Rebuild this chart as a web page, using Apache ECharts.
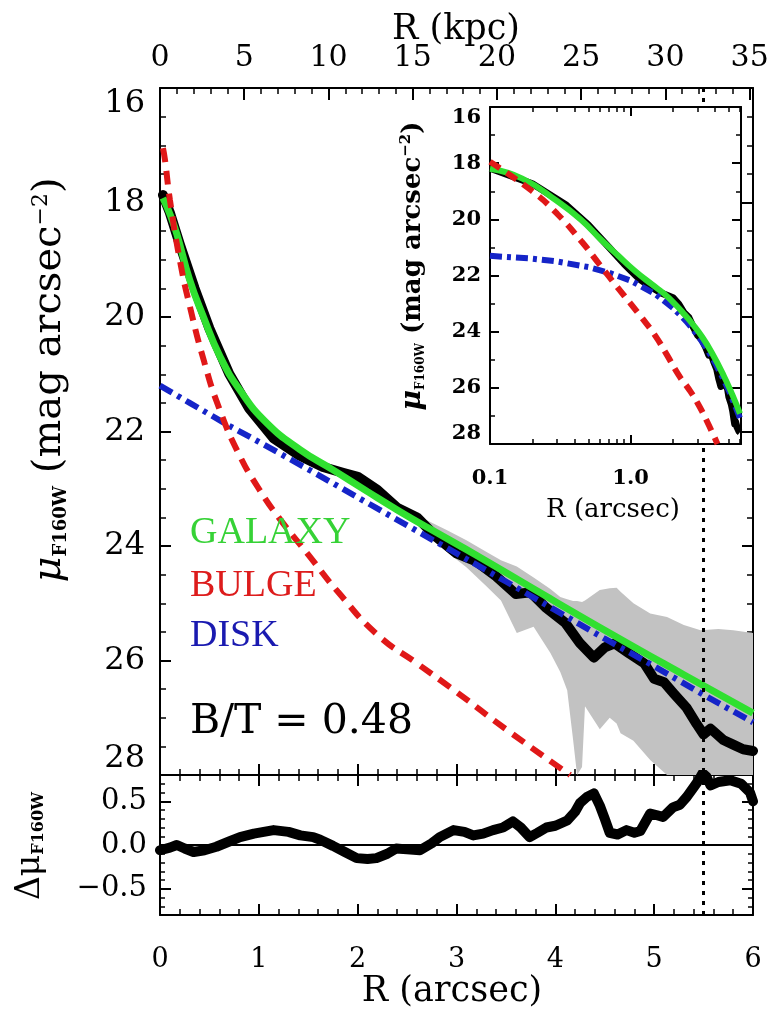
<!DOCTYPE html>
<html>
<head>
<meta charset="utf-8">
<script src="https://cdn.jsdelivr.net/npm/echarts@6/dist/echarts.min.js"></script>
<style>
html, body { margin: 0; padding: 0; background: #fff; }
#profile { width: 773px; height: 1017px; }
</style>
</head>
<body>
<div id="profile"></div>
<script>
// surface brightness profile (R in arcsec, mu in mag arcsec^-2)
var galaxyR  = [0.03, 0.1, 0.17, 0.3, 0.44, 0.61, 0.81, 1.08, 1.42, 1.75, 2.1, 2.43, 2.73, 3.24, 3.8, 4.58, 5.3, 6.0];
var galaxyMu = [17.92, 18.2, 18.55, 19.35, 20.0, 20.7, 21.28, 21.85, 22.32, 22.67, 23.05, 23.4, 23.7, 24.2, 24.77, 25.55, 26.25, 26.92];

var bulgeR  = [0.03, 0.05, 0.1, 0.2, 0.3, 0.45, 0.6, 0.8, 1.0, 1.2, 1.5, 1.8, 2.2, 2.6, 3.0, 3.5, 4.15];
var bulgeMu = [17.05, 17.25, 17.95, 19.0, 19.8, 20.8, 21.6, 22.4, 23.0, 23.5, 24.15, 24.8, 25.55, 26.05, 26.55, 27.2, 28.0];

var diskR  = [0, 0.1, 0.2, 0.3, 0.5, 0.7, 1.0, 1.5, 2.0, 2.5, 3.0, 3.5, 4.0, 4.5, 5.0, 5.5, 6.0];
var diskMu = [21.2, 21.3, 21.4, 21.5, 21.7, 21.9, 22.18, 22.66, 23.15, 23.64, 24.13, 24.62, 25.12, 25.62, 26.1, 26.6, 27.08];

var dataR  = [0.03, 0.1, 0.2, 0.35, 0.5, 0.7, 0.9, 1.15, 1.4, 1.65, 1.85, 2.0, 2.2, 2.4, 2.6, 2.8, 3.0, 3.2, 3.4, 3.6,
              3.75, 3.9, 4.1, 4.25, 4.39, 4.5, 4.6, 4.75, 4.9, 5.0, 5.1, 5.2, 5.33, 5.43, 5.5, 5.57, 5.7, 5.8, 5.9, 6.0];
var dataMu = [17.87, 18.18, 18.73, 19.5, 20.2, 20.99, 21.59, 22.12, 22.41, 22.62, 22.72, 22.79, 23.02, 23.33, 23.5, 23.85, 24.13, 24.27, 24.53, 24.84,
              24.81, 25.07, 25.34, 25.7, 25.95, 25.77, 25.7, 25.88, 26.05, 26.32, 26.38, 26.58, 26.83, 27.11, 27.29, 27.19, 27.39, 27.47, 27.55, 27.58];

// grey error envelope
var bandR     = [2.7, 2.9, 3.1, 3.3, 3.45, 3.61, 3.78, 3.95, 4.05, 4.12, 4.18, 4.22, 4.27, 4.3, 4.45, 4.55, 4.62, 4.66, 4.79, 4.96, 5.13, 5.3, 5.47, 5.65, 5.8, 6.0];
var bandUpper = [23.55, 23.72, 23.9, 24.1, 24.25, 24.36, 24.55, 24.75, 24.89, 24.93, 24.96, 24.96, 24.98, 24.95, 24.77, 24.74, 24.73, 24.8, 25.0, 25.18, 25.24, 25.38, 25.47, 25.45, 25.47, 25.52];
var bandLower = [23.75, 24.1, 24.37, 24.7, 24.95, 25.52, 25.41, 25.87, 26.2, 26.52, 27.39, 28.0, 27.86, 26.8, 27.2, 27.0, 27.1, 27.27, 27.4, 27.74, 28.0, 28.6, 28.6, 28.6, 28.6, 28.6];

// residuals (data - model)
var residR   = [0.0, 0.1, 0.17, 0.25, 0.34, 0.45, 0.57, 0.7, 0.81, 0.95, 1.15, 1.3, 1.42, 1.55, 1.62, 1.75, 1.87, 1.99, 2.1, 2.19,
                2.3, 2.39, 2.5, 2.63, 2.75, 2.83, 2.97, 3.08, 3.17, 3.27, 3.37, 3.47, 3.57, 3.65, 3.74, 3.82, 3.91, 4.0, 4.12, 4.2,
                4.25, 4.32, 4.39, 4.45, 4.5, 4.55, 4.63, 4.72, 4.8, 4.86, 4.96, 5.03, 5.09, 5.19, 5.26, 5.33, 5.4, 5.45, 5.49, 5.53,
                5.57, 5.65, 5.77, 5.88, 5.97, 6.0];
var residVal = [-0.06, -0.03, 0.0, -0.04, -0.08, -0.06, -0.02, 0.04, 0.09, 0.13, 0.17, 0.15, 0.11, 0.09, 0.06, -0.01, -0.08, -0.15, -0.16, -0.15,
                -0.1, -0.04, -0.05, -0.06, 0.02, 0.09, 0.17, 0.15, 0.11, 0.13, 0.17, 0.2, 0.27, 0.2, 0.09, 0.14, 0.2, 0.22, 0.28, 0.38,
                0.48, 0.55, 0.59, 0.45, 0.3, 0.14, 0.12, 0.17, 0.14, 0.16, 0.36, 0.34, 0.32, 0.43, 0.46, 0.55, 0.66, 0.74, 0.82, 0.78,
                0.68, 0.72, 0.74, 0.7, 0.6, 0.5];

var cutR = 5.5;
var residTicks = [-0.5, 0, 0.5];
var insetMajorTicks = [0.1, 1];
var insetMinorTicks = [0.2, 0.3, 0.4, 0.5, 0.6, 0.7, 0.8, 0.9, 2, 3, 4, 5, 6];

var serif = 'DejaVu Serif';

function pairs(xs, ys) {
	return xs.map(function (x, i) { return [x, ys[i]]; });
}
function insetPairs(xs, ys) {
	return pairs(xs, ys).filter(function (p) { return p[0] >= 0.1; });
}
function signed(v) {
	return (v < 0 ? '\u2212' : '') + Math.abs(v).toFixed(1);
}

var blackLine = { color: '#000', width: 2 };
var thinLine = { color: '#000', width: 1.5 };

function frame(extra) {
	return Object.assign({
		type: 'value',
		axisLine: { show: true, onZero: false, lineStyle: blackLine },
		axisTick: { show: true, inside: true, length: 11, lineStyle: blackLine },
		minorTick: { show: true, splitNumber: 5, length: 6, lineStyle: thinLine },
		splitLine: { show: false },
		minorSplitLine: { show: false },
		axisLabel: { show: false }
	}, extra);
}

function logFrame(extra) {
	return Object.assign({
		type: 'log', logBase: 10, min: 0.1, max: 6.1, z: 12,
		axisLine: { show: true, onZero: false, lineStyle: blackLine },
		axisTick: { show: true, inside: true, length: 9, customValues: insetMajorTicks, lineStyle: blackLine },
		axisLabel: { show: false },
		splitLine: { show: false }
	}, extra);
}

// band between the two envelope edges, placed through the axes
function renderBand(params, api) {
	if (params.dataIndex !== 0) return null;
	var upper = bandR.map(function (r, i) { return api.coord([r, bandUpper[i]]); });
	var lower = bandR.map(function (r, i) { return api.coord([r, bandLower[i]]); }).reverse();
	var cs = params.coordSys;
	return {
		type: 'polygon',
		shape: { points: upper.concat(lower) },
		style: { fill: '#c2c2c2' },
		clipPath: { type: 'rect', shape: { x: cs.x, y: cs.y, width: cs.width, height: cs.height } }
	};
}

var myChart = echarts.init(document.getElementById('profile'));

var option = {
	animation: false,
	backgroundColor: '#fff',
	grid: [
		{ left: 160, top: 88, width: 593, height: 687 },
		{ left: 160, top: 775, width: 593, height: 140 },
		{ left: 160, top: 775, width: 593, height: 140 },
		{ left: 490, top: 107, width: 251, height: 337, show: true, backgroundColor: '#fff', borderWidth: 0, z: 10 },
		{ left: 490, top: 107, width: 251, height: 337, z: 10 }
	],
	xAxis: [
		frame({ gridIndex: 0, position: 'bottom', min: 0, max: 6, interval: 1 }),
		frame({
			gridIndex: 0, position: 'top', min: 0, max: 35.2, interval: 5,
			axisTick: { show: true, inside: true, length: 12, lineStyle: blackLine },
			axisLabel: {
				show: true, showMaxLabel: false, fontFamily: serif, fontSize: 30, color: '#000', margin: 15,
				formatter: function (v) { return v % 5 === 0 ? String(v) : ''; }
			}
		}),
		frame({
			gridIndex: 1, position: 'bottom', min: 0, max: 6, interval: 1,
			axisLabel: { show: true, fontFamily: serif, fontSize: 27, color: '#000', margin: 31 }
		}),
		frame({ gridIndex: 1, position: 'top', min: 0, max: 6, interval: 1 }),
		{ gridIndex: 2, type: 'value', min: 0, max: 6, show: false },
		logFrame({
			gridIndex: 3, position: 'bottom',
			axisLabel: {
				show: true, customValues: insetMajorTicks, fontFamily: serif, fontWeight: 'bold', fontSize: 21, color: '#000', margin: 24,
				formatter: function (v) { return Number(v).toFixed(1); }
			}
		}),
		logFrame({ gridIndex: 3, position: 'top' }),
		logFrame({
			gridIndex: 4, position: 'bottom', axisLine: { show: false },
			axisTick: { show: true, inside: true, length: 5, customValues: insetMinorTicks, lineStyle: thinLine }
		}),
		logFrame({
			gridIndex: 4, position: 'top', axisLine: { show: false },
			axisTick: { show: true, inside: true, length: 5, customValues: insetMinorTicks, lineStyle: thinLine }
		})
	],
	yAxis: [
		frame({
			gridIndex: 0, position: 'left', inverse: true, min: 16, max: 28, interval: 2,
			minorTick: { show: true, splitNumber: 4, length: 6, lineStyle: thinLine },
			axisLabel: {
				show: true, fontFamily: serif, fontSize: 32, color: '#000', margin: 15,
				verticalAlignMinLabel: 'top', verticalAlignMaxLabel: 'bottom'
			}
		}),
		frame({
			gridIndex: 0, position: 'right', inverse: true, min: 16, max: 28, interval: 2,
			minorTick: { show: true, splitNumber: 4, length: 6, lineStyle: thinLine }
		}),
		frame({
			gridIndex: 1, position: 'left', min: -0.8, max: 0.8, interval: 0.1,
			axisTick: { show: true, inside: true, length: 5, lineStyle: thinLine },
			minorTick: { show: false },
			axisLabel: { show: true, customValues: residTicks, formatter: signed, fontFamily: serif, fontSize: 29, color: '#000', margin: 13 }
		}),
		frame({
			gridIndex: 1, position: 'right', min: -0.8, max: 0.8, interval: 0.1,
			axisTick: { show: true, inside: true, length: 5, lineStyle: thinLine },
			minorTick: { show: false }
		}),
		{
			gridIndex: 2, type: 'value', position: 'left', min: -0.8, max: 0.8,
			axisLine: { show: false },
			axisTick: { show: true, inside: true, length: 11, customValues: residTicks, lineStyle: blackLine },
			axisLabel: { show: false }, splitLine: { show: false }
		},
		{
			gridIndex: 2, type: 'value', position: 'right', min: -0.8, max: 0.8,
			axisLine: { show: false },
			axisTick: { show: true, inside: true, length: 11, customValues: residTicks, lineStyle: blackLine },
			axisLabel: { show: false }, splitLine: { show: false }
		},
		frame({
			gridIndex: 3, position: 'left', inverse: true, min: 16, max: 28, interval: 2, z: 12,
			axisTick: { show: true, inside: true, length: 9, lineStyle: blackLine },
			minorTick: { show: true, splitNumber: 2, length: 5, lineStyle: thinLine },
			axisLabel: {
				show: true, fontFamily: serif, fontWeight: 'bold', fontSize: 21, color: '#000', margin: 9,
				verticalAlignMinLabel: 'top', verticalAlignMaxLabel: 'bottom'
			}
		}),
		frame({
			gridIndex: 3, position: 'right', inverse: true, min: 16, max: 28, interval: 2, z: 12,
			axisTick: { show: true, inside: true, length: 9, lineStyle: blackLine },
			minorTick: { show: true, splitNumber: 2, length: 5, lineStyle: thinLine }
		}),
		{ gridIndex: 4, type: 'value', min: 16, max: 28, show: false }
	],
	series: [
		// error envelope
		{
			type: 'custom', xAxisIndex: 0, yAxisIndex: 0, z: 1, silent: true,
			renderItem: renderBand,
			encode: { x: 0, y: [1, 2] },
			data: bandR.map(function (r, i) { return [r, bandUpper[i], bandLower[i]]; })
		},
		{
			name: 'data', type: 'line', xAxisIndex: 0, yAxisIndex: 0, z: 2, silent: true,
			symbol: 'none', lineStyle: { color: '#000', width: 10, join: 'round', cap: 'round' },
			data: pairs(dataR, dataMu),
			markLine: {
				silent: true, symbol: ['none', 'none'], label: { show: false },
				lineStyle: { color: '#000', width: 3, type: [4, 6] },
				data: [{ xAxis: cutR }]
			}
		},
		{
			name: 'DISK', type: 'line', xAxisIndex: 0, yAxisIndex: 0, z: 3, silent: true,
			symbol: 'none', lineStyle: { color: '#1524c8', width: 6, type: [14, 6, 4, 6] },
			data: pairs(diskR, diskMu)
		},
		{
			name: 'GALAXY', type: 'line', xAxisIndex: 0, yAxisIndex: 0, z: 4, silent: true,
			symbol: 'none', smooth: 0.5,
			lineStyle: { color: '#30e030', width: 7 },
			data: pairs(galaxyR, galaxyMu)
		},
		{
			name: 'BULGE', type: 'line', xAxisIndex: 0, yAxisIndex: 0, z: 5, silent: true,
			symbol: 'none', smooth: 0.5,
			lineStyle: { color: '#e01818', width: 6, type: [14, 9] },
			data: pairs(bulgeR, bulgeMu)
		},
		// residual panel
		{
			type: 'line', xAxisIndex: 2, yAxisIndex: 2, z: 3, silent: true,
			symbol: 'none', lineStyle: { color: '#000', width: 10, join: 'round', cap: 'round' },
			data: pairs(residR, residVal),
			markLine: {
				silent: true, symbol: ['none', 'none'], label: { show: false },
				data: [
					{ yAxis: 0, lineStyle: { color: '#000', width: 2, type: 'solid' } },
					{ xAxis: cutR, lineStyle: { color: '#000', width: 3, type: [4, 6] } }
				]
			}
		},
		// inset, log radius
		{
			type: 'line', xAxisIndex: 5, yAxisIndex: 6, z: 11, silent: true,
			symbol: 'none', lineStyle: { color: '#000', width: 7, join: 'round' },
			data: insetPairs(dataR, dataMu),
			markLine: {
				silent: true, symbol: ['none', 'none'], label: { show: false },
				lineStyle: { color: '#000', width: 3, type: [4, 6] },
				data: [{ xAxis: cutR }]
			}
		},
		{
			type: 'line', xAxisIndex: 5, yAxisIndex: 6, z: 12, silent: true,
			symbol: 'none', lineStyle: { color: '#1524c8', width: 6, type: [12, 5, 4, 5] },
			data: insetPairs(diskR, diskMu)
		},
		{
			type: 'line', xAxisIndex: 5, yAxisIndex: 6, z: 13, silent: true,
			symbol: 'none', smooth: 0.5,
			lineStyle: { color: '#30e030', width: 6 },
			data: insetPairs(galaxyR, galaxyMu)
		},
		{
			type: 'line', xAxisIndex: 5, yAxisIndex: 6, z: 14, silent: true,
			symbol: 'none', smooth: 0.5,
			lineStyle: { color: '#e01818', width: 6, type: [12, 8] },
			data: insetPairs(bulgeR, bulgeMu)
		}
	],
	graphic: [
		{ type: 'text', x: 456, y: 30, z: 100, style: { text: 'R (kpc)', font: '35px "DejaVu Serif"', fill: '#000', align: 'center', verticalAlign: 'middle' } },
		{ type: 'text', x: 452, y: 992, z: 100, style: { text: 'R (arcsec)', font: '35px "DejaVu Serif"', fill: '#000', align: 'center', verticalAlign: 'middle' } },
		{
			type: 'text', x: 50, y: 380, rotation: Math.PI / 2, z: 100,
			style: {
				text: '{mu|\u03bc}{sub|F160W}{t| (mag arcsec}{sup|\u22122}{t|)}',
				align: 'center', verticalAlign: 'middle', fill: '#000',
				rich: {
					mu: { fontFamily: serif, fontStyle: 'italic', fontSize: 40 },
					sub: { fontFamily: serif, fontWeight: 'bold', fontSize: 18, verticalAlign: 'bottom' },
					t: { fontFamily: serif, fontSize: 40 },
					sup: { fontFamily: serif, fontSize: 22, verticalAlign: 'top' }
				}
			}
		},
		{
			type: 'text', x: 30, y: 846, rotation: Math.PI / 2, z: 100,
			style: {
				text: '{d|\u0394\u03bc}{sub|F160W}',
				align: 'center', verticalAlign: 'middle', fill: '#000',
				rich: {
					d: { fontFamily: serif, fontSize: 33 },
					sub: { fontFamily: serif, fontWeight: 'bold', fontSize: 16, verticalAlign: 'bottom' }
				}
			}
		},
		{ type: 'text', x: 613, y: 510, z: 100, style: { text: 'R (arcsec)', font: '26px "DejaVu Serif"', fill: '#000', align: 'center', verticalAlign: 'middle' } },
		{
			type: 'text', x: 413, y: 266, rotation: Math.PI / 2, z: 100,
			style: {
				text: '{mu|\u03bc}{sub|F160W}{t| (mag arcsec}{sup|\u22122}{t|)}',
				align: 'center', verticalAlign: 'middle', fill: '#000',
				rich: {
					mu: { fontFamily: serif, fontStyle: 'italic', fontWeight: 'bold', fontSize: 28 },
					sub: { fontFamily: serif, fontWeight: 'bold', fontSize: 12, verticalAlign: 'bottom' },
					t: { fontFamily: serif, fontWeight: 'bold', fontSize: 26 },
					sup: { fontFamily: serif, fontWeight: 'bold', fontSize: 15, verticalAlign: 'top' }
				}
			}
		},
		{ type: 'text', x: 190, y: 533, z: 100, style: { text: 'GALAXY', font: '38px "Liberation Serif"', fill: '#36d236', align: 'left', verticalAlign: 'middle' } },
		{ type: 'text', x: 190, y: 586, z: 100, style: { text: 'BULGE', font: '38px "Liberation Serif"', fill: '#dd1c1c', align: 'left', verticalAlign: 'middle' } },
		{ type: 'text', x: 190, y: 636, z: 100, style: { text: 'DISK', font: '38px "Liberation Serif"', fill: '#1a1ab0', align: 'left', verticalAlign: 'middle' } },
		{ type: 'text', x: 190, y: 722, z: 100, style: { text: 'B/T = 0.48', font: '41px "DejaVu Serif"', fill: '#000', align: 'left', verticalAlign: 'middle' } }
	]
};

myChart.setOption(option);
</script>
</body>
</html>
